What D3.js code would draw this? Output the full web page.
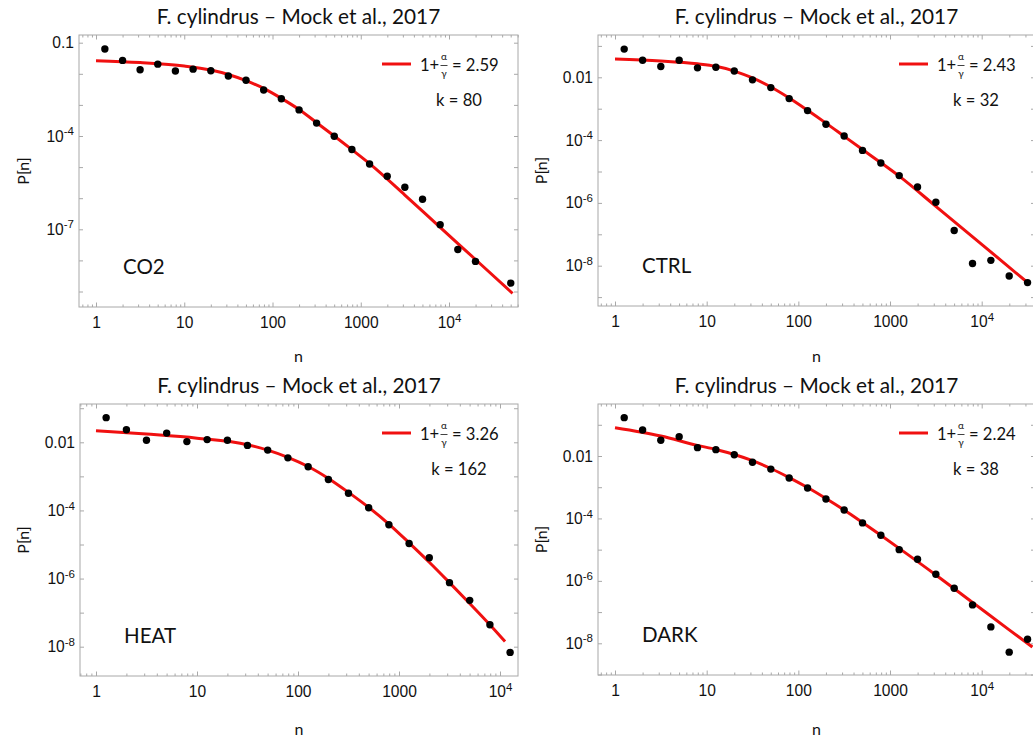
<!DOCTYPE html>
<html>
<head>
<meta charset="utf-8">
<script src="https://cdn.jsdelivr.net/npm/d3@7"></script>
<style>
body { margin: 0; background: white; }
svg { display: block; font-family: Lato, "Noto Sans", sans-serif; }
</style>
</head>
<body>
<svg id="chart" width="1033" height="738"></svg>
<script>

// bin centres (n) shared by the four data sets
var binN = [1.26, 2.0, 3.16, 5.01, 7.94, 12.6, 20.0, 31.6, 50.1, 79.4, 126, 200, 316, 501, 794, 1259, 1995, 3162, 5012, 7943, 12589, 19953, 31623, 50119];

// P[n] per bin, null = empty bin
var co2P = [6.3e-2, 2.7e-2, 1.35e-2, 2.04e-2, 1.23e-2, 1.41e-2, 1.26e-2, 8.5e-3, 6.2e-3, 3.0e-3, 1.58e-3, 6.9e-4, 2.6e-4, 9.8e-5, 3.7e-5, 1.26e-5, 5.1e-6, 2.24e-6, 9.3e-7, 1.41e-7, 2.24e-8, 9.3e-9, null, 1.86e-9];
var ctrlP = [7.9e-2, 3.5e-2, 2.2e-2, 3.5e-2, 2.0e-2, 2.1e-2, 1.58e-2, 8.3e-3, 4.7e-3, 2.1e-3, 8.7e-4, 3.2e-4, 1.35e-4, 4.7e-5, 1.86e-5, 7.4e-6, 3.2e-6, 1.05e-6, 1.32e-7, 1.17e-8, 1.48e-8, 4.7e-9, 2.9e-9, null];
var heatP = [5.3e-2, 2.34e-2, 1.15e-2, 1.86e-2, 1.05e-2, 1.2e-2, 1.15e-2, 8.1e-3, 5.9e-3, 3.5e-3, 1.91e-3, 8.1e-4, 3.2e-4, 1.2e-4, 3.8e-5, 1.07e-5, 4.1e-6, 7.6e-7, 2.29e-7, 4.4e-8, 6.8e-9, null, null, null];
var darkP = [1.69e-1, 6.8e-2, 3.18e-2, 4.16e-2, 1.85e-2, 1.6e-2, 1.1e-2, 6.3e-3, 3.8e-3, 1.98e-3, 9.4e-4, 4.2e-4, 1.87e-4, 7.2e-5, 2.88e-5, 1.0e-5, 4.9e-6, 1.63e-6, 5.8e-7, 1.7e-7, 3.35e-8, 5.2e-9, 1.35e-8, null];

// fitted curves
var co2FitN = [1, 3.16, 10, 20, 31.6, 50.1, 79.4, 126, 200, 316, 501, 794, 1259, 3162, 7943, 19953, 52480];
var co2FitP = [2.64e-2, 2.29e-2, 1.78e-2, 1.32e-2, 9.5e-3, 6.0e-3, 3.39e-3, 1.62e-3, 7.1e-4, 2.69e-4, 1.0e-4, 3.63e-5, 1.29e-5, 1.26e-6, 1.15e-7, 1.07e-8, 8.7e-10];
var ctrlFitN = [1, 3.16, 7.94, 12.6, 20, 31.6, 50.1, 79.4, 126, 200, 316, 501, 794, 1259, 3162, 10000, 32360];
var ctrlFitP = [3.8e-2, 3.31e-2, 2.69e-2, 2.24e-2, 1.58e-2, 9.5e-3, 4.9e-3, 2.19e-3, 8.9e-4, 3.47e-4, 1.32e-4, 5.0e-5, 1.91e-5, 7.1e-6, 7.8e-7, 4.8e-8, 2.75e-9];
var heatFitN = [1, 3.16, 10, 31.6, 50.1, 79.4, 126, 200, 316, 501, 794, 1259, 1995, 3162, 5012, 7943, 11220];
var heatFitP = [2.19e-2, 1.74e-2, 1.32e-2, 8.5e-3, 5.9e-3, 3.63e-3, 1.95e-3, 8.7e-4, 3.39e-4, 1.23e-4, 3.98e-5, 1.12e-5, 3.02e-6, 7.6e-7, 1.86e-7, 4.4e-8, 1.41e-8];
var darkFitN = [1, 3.16, 7.94, 12.6, 20, 31.6, 50.1, 79.4, 126, 200, 316, 501, 794, 1259, 3162, 7943, 19953, 35730];
var darkFitP = [8.07e-2, 4.37e-2, 2.19e-2, 1.62e-2, 1.12e-2, 7.1e-3, 3.98e-3, 2.04e-3, 9.8e-4, 4.37e-4, 1.86e-4, 7.4e-5, 2.88e-5, 1.10e-5, 1.55e-6, 2.04e-7, 2.69e-8, 7.6e-9];

var panelNames = ["CO2", "CTRL", "HEAT", "DARK"];
var exponents = [2.59, 2.43, 3.26, 2.24];
var kValues = [80, 32, 162, 38];
var title = "F. cylindrus \u2013 Mock et al., 2017";

var xLabelTicks = [1, 10, 100, 1000, 10000];
var yLabelTicks = [
	[1e-1, 1e-4, 1e-7],
	[1e-2, 1e-4, 1e-6, 1e-8],
	[1e-2, 1e-4, 1e-6, 1e-8],
	[1e-2, 1e-4, 1e-6, 1e-8]
];

var allP = [co2P, ctrlP, heatP, darkP];
var allFitN = [co2FitN, ctrlFitN, heatFitN, darkFitN];
var allFitP = [co2FitP, ctrlFitP, heatFitP, darkFitP];

// frame box and calibration pixels of every panel
var layouts = [
	{ left: 79, right: 518, top: 35, bottom: 307, x1: 96, x4: 449, yv: [1e-1, 1e-7], yp: [42.7, 229.3], titleY: 24, nY: 362, pX: 22 },
	{ left: 598, right: 1035, top: 35, bottom: 306, x1: 615, x4: 981.7, yv: [1e-2, 1e-8], yp: [77.3, 265.7], titleY: 24, nY: 362, pX: 540 },
	{ left: 80, right: 518, top: 404, bottom: 676, x1: 96, x4: 500, yv: [1e-2, 1e-8], yp: [442.3, 646.7], titleY: 393, nY: 735, pX: 22 },
	{ left: 598, right: 1035, top: 404, bottom: 675, x1: 615, x4: 981.7, yv: [1e-2, 1e-8], yp: [456, 643.3], titleY: 393, nY: 735, pX: 540 }
];

var frameColor = "#a8a8a8";
var lineColor = "#f01010";
var textColor = "#111";

function renderChart(element) {

	var svg = d3.select(element);

	svg.append("rect")
		.attr("width", 1033)
		.attr("height", 738)
		.attr("fill", "white");

	for (var i = 0; i < layouts.length; i++) {
		drawPanel(svg, i);
	}

}

function tickText(v) {
	if (v >= 0.01 && v < 1e4) return [String(v), null];
	return ["10", String(Math.round(Math.log10(v)))];
}

function setTickLabels(axisG, labelled) {

	axisG.selectAll(".tick text").each(function(d) {
		var t = d3.select(this);
		t.text(null);
		if (labelled.indexOf(d) < 0) return;
		var parts = tickText(d);
		t.append("tspan").text(parts[0]);
		if (parts[1] !== null) {
			t.append("tspan")
				.attr("font-size", 11.5)
				.attr("dy", "-0.55em")
				.text(parts[1]);
		}
	});

}

function styleAxis(axisG) {
	axisG.select(".domain").remove();
	axisG.selectAll(".tick line").attr("stroke", frameColor);
	axisG.selectAll(".tick text").attr("fill", textColor).attr("font-size", 15.6);
}

function drawPanel(svg, idx) {

	var L = layouts[idx];

	var xScale = d3.scaleLog().domain([1, 1e4]).range([L.x1, L.x4]);
	xScale.domain([xScale.invert(L.left), xScale.invert(L.right)]).range([L.left, L.right]);

	var yScale = d3.scaleLog().domain(L.yv).range(L.yp);
	yScale.domain([yScale.invert(L.bottom), yScale.invert(L.top)]).range([L.bottom, L.top]);

	var g = svg.append("g").attr("class", "panel");

	var xd = xScale.domain();
	var yd = yScale.domain();

	// decades and minor ticks that fall inside the frame
	var xMajor = [], xMinor = [];
	for (var e = -1; e <= 5; e++) {
		for (var m = 1; m <= 9; m++) {
			var v = m * Math.pow(10, e);
			if (v < xd[0] || v > xd[1]) continue;
			if (m === 1) xMajor.push(v); else xMinor.push(v);
		}
	}
	var yMajor = [];
	for (var e2 = -10; e2 <= 0; e2++) {
		var v2 = Math.pow(10, e2);
		if (v2 >= yd[0] && v2 <= yd[1]) yMajor.push(v2);
	}
	var yLab = yLabelTicks[idx].map(v => yMajor.find(w => Math.abs(Math.log10(w) - Math.log10(v)) < 1e-6));

	// frame
	g.append("rect")
		.attr("x", L.left)
		.attr("y", L.top)
		.attr("width", L.right - L.left)
		.attr("height", L.bottom - L.top)
		.attr("fill", "none")
		.attr("stroke", frameColor)
		.attr("stroke-width", 1);

	var bottomAxis = g.append("g")
		.attr("transform", "translate(0," + L.bottom + ")")
		.call(d3.axisBottom(xScale).tickValues(xMajor).tickSize(-4.5).tickPadding(10));
	styleAxis(bottomAxis);
	setTickLabels(bottomAxis, xLabelTicks);

	var bottomMinor = g.append("g")
		.attr("transform", "translate(0," + L.bottom + ")")
		.call(d3.axisBottom(xScale).tickValues(xMinor).tickSize(-2.5).tickFormat(""));
	styleAxis(bottomMinor);

	var topAxis = g.append("g")
		.attr("transform", "translate(0," + L.top + ")")
		.call(d3.axisTop(xScale).tickValues(xMajor).tickSize(-4.5).tickFormat(""));
	styleAxis(topAxis);

	var topMinor = g.append("g")
		.attr("transform", "translate(0," + L.top + ")")
		.call(d3.axisTop(xScale).tickValues(xMinor).tickSize(-2.5).tickFormat(""));
	styleAxis(topMinor);

	var leftAxis = g.append("g")
		.attr("transform", "translate(" + L.left + ",0)")
		.call(d3.axisLeft(yScale).tickValues(yMajor).tickSize(-4).tickPadding(5));
	styleAxis(leftAxis);
	setTickLabels(leftAxis, yLab);

	var rightAxis = g.append("g")
		.attr("transform", "translate(" + L.right + ",0)")
		.call(d3.axisRight(yScale).tickValues(yMajor).tickSize(-4).tickFormat(""));
	styleAxis(rightAxis);

	// titles
	var cx = (L.left + L.right) / 2;

	g.append("text")
		.attr("x", cx)
		.attr("y", L.titleY)
		.attr("text-anchor", "middle")
		.attr("font-size", 20.8)
		.attr("fill", textColor)
		.text(title);

	g.append("text")
		.attr("x", cx)
		.attr("y", L.nY)
		.attr("text-anchor", "middle")
		.attr("font-size", 16)
		.attr("fill", textColor)
		.text("n");

	g.append("text")
		.attr("transform", "translate(" + L.pX + "," + ((L.top + L.bottom) / 2) + ") rotate(-90)")
		.attr("text-anchor", "middle")
		.attr("dominant-baseline", "central")
		.attr("font-size", 16)
		.attr("fill", textColor)
		.text("P[n]");

	// fitted curve
	var fit = allFitN[idx].map((n, i) => [n, allFitP[idx][i]]);

	var line = d3.line()
		.x(d => xScale(d[0]))
		.y(d => yScale(d[1]))
		.curve(d3.curveMonotoneX);

	g.append("path")
		.datum(fit)
		.attr("d", line)
		.attr("fill", "none")
		.attr("stroke", lineColor)
		.attr("stroke-width", 3);

	// data points
	var points = binN.map((n, i) => [n, allP[idx][i]]).filter(d => d[1] !== null);

	g.append("g")
		.selectAll("circle")
		.data(points)
		.enter()
		.append("circle")
		.attr("cx", d => xScale(d[0]))
		.attr("cy", d => yScale(d[1]))
		.attr("r", 3.7)
		.attr("fill", "black");

	// panel label
	g.append("text")
		.attr("x", L.left + 44)
		.attr("y", L.bottom - 33)
		.attr("font-size", 20.5)
		.attr("fill", textColor)
		.text(panelNames[idx]);

	drawLegend(g, L.right - 136, L.top + 29, idx);

}

function drawLegend(g, lx, ly, idx) {

	var leg = g.append("g").attr("transform", "translate(" + lx + "," + ly + ")");

	leg.append("line")
		.attr("x1", 0)
		.attr("x2", 29)
		.attr("y1", 0)
		.attr("y2", 0)
		.attr("stroke", lineColor)
		.attr("stroke-width", 3);

	leg.append("text")
		.attr("x", 38)
		.attr("y", 6.5)
		.attr("font-size", 16.6)
		.attr("fill", textColor)
		.text("1+");

	leg.append("text")
		.attr("x", 62)
		.attr("y", -4)
		.attr("text-anchor", "middle")
		.attr("font-size", 10)
		.attr("fill", textColor)
		.text("\u03b1");

	leg.append("line")
		.attr("x1", 58.5)
		.attr("x2", 65.5)
		.attr("y1", 1.5)
		.attr("y2", 1.5)
		.attr("stroke", textColor)
		.attr("stroke-width", 0.8);

	leg.append("text")
		.attr("x", 62)
		.attr("y", 12.5)
		.attr("text-anchor", "middle")
		.attr("font-size", 10)
		.attr("fill", textColor)
		.text("\u03b3");

	leg.append("text")
		.attr("x", 70)
		.attr("y", 6.5)
		.attr("font-size", 16.6)
		.attr("fill", textColor)
		.text("= " + exponents[idx].toFixed(2));

	leg.append("text")
		.attr("x", 77)
		.attr("y", 42)
		.attr("text-anchor", "middle")
		.attr("font-size", 16.6)
		.attr("fill", textColor)
		.text("k = " + kValues[idx]);

}

renderChart("#chart");

</script>
</body>
</html>
